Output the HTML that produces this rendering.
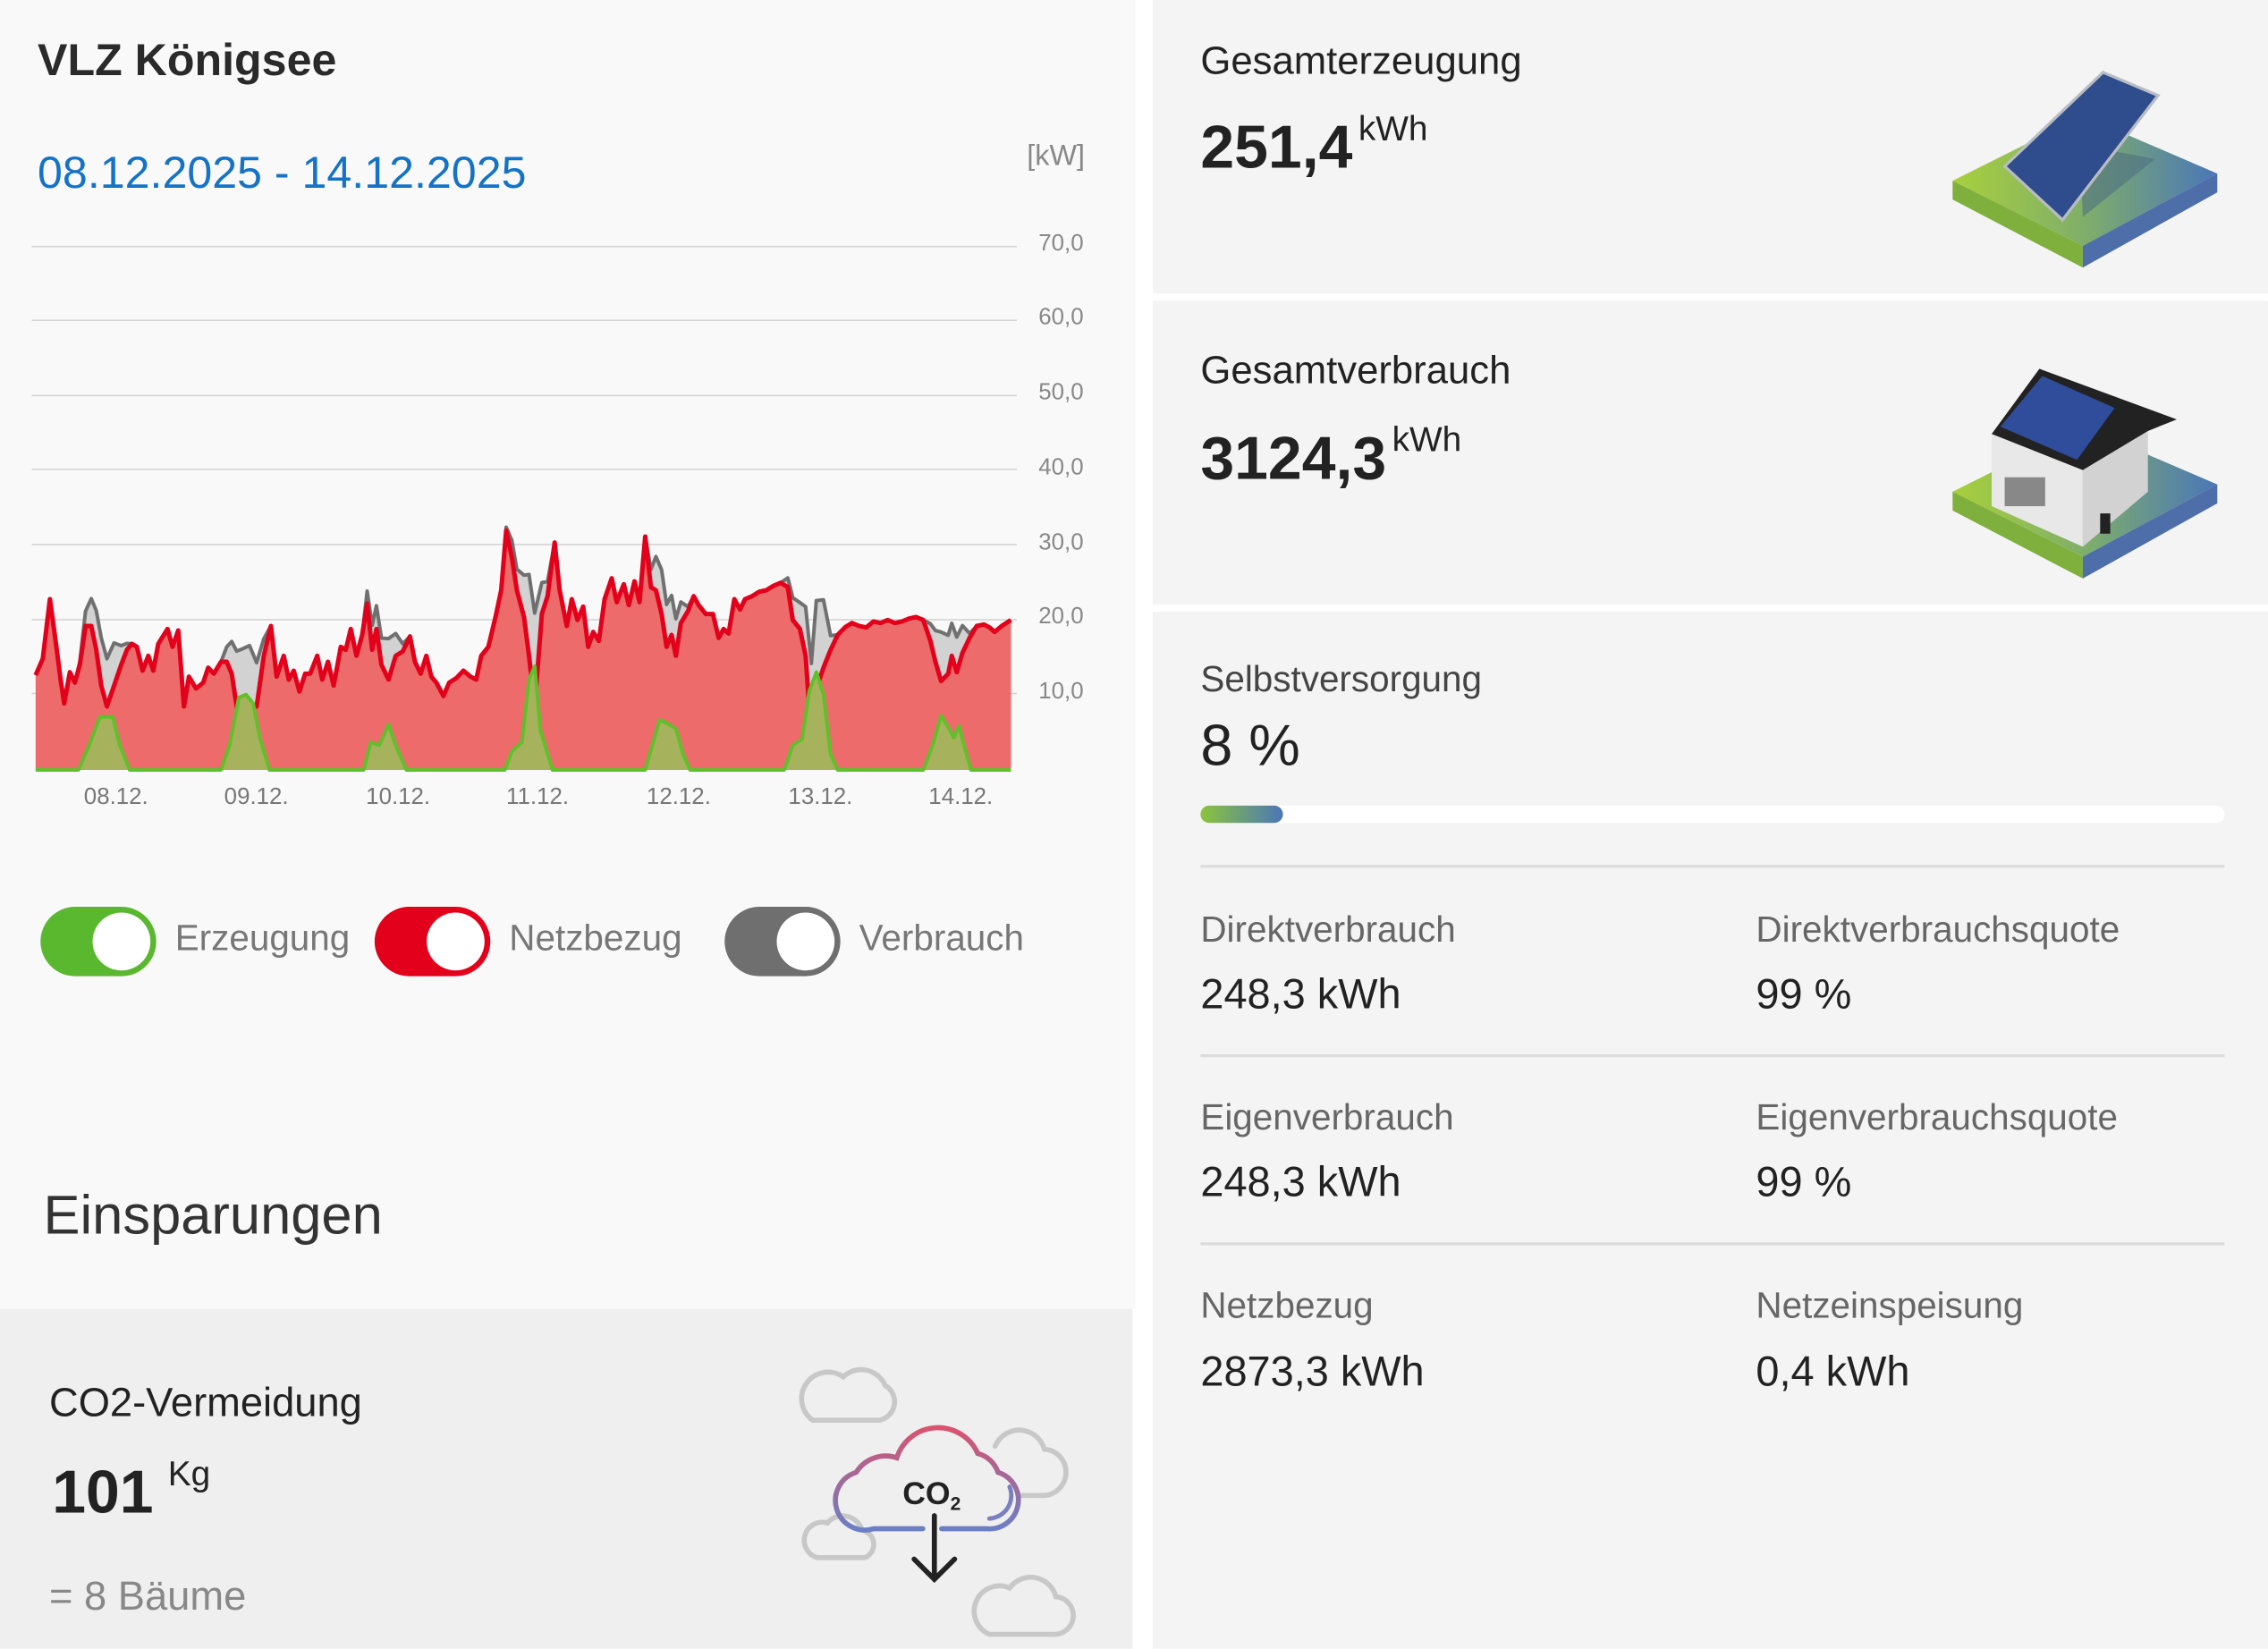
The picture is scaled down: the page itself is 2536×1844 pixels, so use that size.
<!DOCTYPE html>
<html><head><meta charset="utf-8">
<style>
html,body{margin:0;padding:0;background:#fff;}
body{width:2536px;height:1844px;position:relative;overflow:hidden;font-family:"Liberation Sans",sans-serif;}
#w{position:absolute;left:0;top:0;width:1568px;height:1140px;transform:scale(1.6173);transform-origin:0 0;}
.a{position:absolute;white-space:nowrap;}
.tg{position:absolute;width:80px;height:48px;border-radius:24px;}
.tg i{position:absolute;right:4px;top:4px;width:40px;height:40px;border-radius:50%;background:#fff;}
.lbl{font-size:25px;color:#666;}
.val{font-size:29px;color:#222;}
.yl{position:absolute;left:718px;font-size:16px;color:#888;}
.xl{position:absolute;font-size:16px;color:#777;}
</style></head><body>
<div id="w">
<div class="a" style="left:0;top:0;width:785px;height:905px;background:#f9f9f9"></div>
<div class="a" style="left:0;top:905px;width:783px;height:235px;background:#efefef"></div>
<div class="a" style="left:797px;top:0;width:771px;height:203px;background:#f4f4f4"></div>
<div class="a" style="left:797px;top:208px;width:771px;height:210px;background:#f4f4f4"></div>
<div class="a" style="left:797px;top:423px;width:771px;height:717px;background:#f4f4f4"></div>

<div class="a" style="left:26px;top:24px;font-size:31px;font-weight:bold;color:#2a2a2a">VLZ Königsee</div>
<div class="a" style="left:26px;top:102px;font-size:31px;color:#1473c6">08.12.2025 - 14.12.2025</div>
<div class="a" style="left:710px;top:97px;font-size:20px;color:#888">[kW]</div>

<div class="a" style="left:22px;top:170px;width:681px;height:1px;background:#d4d4d4"></div>
<div class="a" style="left:22px;top:221px;width:681px;height:1px;background:#d4d4d4"></div>
<div class="a" style="left:22px;top:273px;width:681px;height:1px;background:#d4d4d4"></div>
<div class="a" style="left:22px;top:324px;width:681px;height:1px;background:#d4d4d4"></div>
<div class="a" style="left:22px;top:376px;width:681px;height:1px;background:#d4d4d4"></div>
<div class="a" style="left:22px;top:428px;width:681px;height:1px;background:#d4d4d4"></div>
<div class="a" style="left:22px;top:479px;width:681px;height:1px;background:#d4d4d4"></div>
<div class="yl" style="top:160px">70,0</div>
<div class="yl" style="top:211px">60,0</div>
<div class="yl" style="top:263px">50,0</div>
<div class="yl" style="top:315px">40,0</div>
<div class="yl" style="top:367px">30,0</div>
<div class="yl" style="top:418px">20,0</div>
<div class="yl" style="top:470px">10,0</div>
<div class="xl" style="left:58px;top:543px">08.12.</div>
<div class="xl" style="left:155px;top:543px">09.12.</div>
<div class="xl" style="left:253px;top:543px">10.12.</div>
<div class="xl" style="left:350px;top:543px">11.12.</div>
<div class="xl" style="left:447px;top:543px">12.12.</div>
<div class="xl" style="left:545px;top:543px">13.12.</div>
<div class="xl" style="left:642px;top:543px">14.12.</div>

<div class="tg" style="left:28px;top:627px;background:#5ab82e"><i></i></div>
<div class="a lbl" style="left:121px;top:635px;color:#777">Erzeugung</div>
<div class="tg" style="left:259px;top:627px;background:#e2001a"><i></i></div>
<div class="a lbl" style="left:352px;top:635px;color:#777">Netzbezug</div>
<div class="tg" style="left:501px;top:627px;background:#6f6f6f"><i></i></div>
<div class="a lbl" style="left:594px;top:635px;color:#777">Verbrauch</div>

<div class="a" style="left:30px;top:820px;font-size:38px;color:#333">Einsparungen</div>
<div class="a" style="left:34px;top:954px;font-size:28px;color:#222">CO2-Vermeidung</div>
<div class="a" style="left:36px;top:1008px;font-size:42px;font-weight:bold;color:#222">101<span style="font-size:24px;font-weight:normal;vertical-align:top;position:relative;top:-2px;margin-left:10px">Kg</span></div>
<div class="a" style="left:34px;top:1088px;font-size:28px;color:#888">= 8 Bäume</div>

<svg class="a" style="left:540px;top:930px" width="220" height="210" viewBox="540 930 220 210">
<defs><linearGradient id="cg" x1="0" y1="0" x2="0" y2="1"><stop offset="0" stop-color="#d9536e"/><stop offset="1" stop-color="#6b7fc6"/></linearGradient></defs>
<g fill="none" stroke="#c8c8c8" stroke-width="3.5" stroke-linecap="round">
<path d="M562,982 H608 A13,13 0 0 0 612,958 A18,18 0 0 0 583,952 A14,14 0 0 0 562,982 Z"/>
<path d="M688,1000 A18,18 0 0 1 722,1002 A14,14 0 0 1 720,1034 H705"/>
<path d="M565,1077 H598 A10,10 0 0 0 596,1058 A14,14 0 0 0 572,1053 A12,12 0 0 0 565,1077 Z"/>
<path d="M684,1130 H728 A13,13 0 0 0 730,1104 A18,18 0 0 0 698,1098 A16,16 0 0 0 684,1130 Z"/>
</g>
<path d="M638,1057 H604 A20,20 0 0 1 592,1018 A24,24 0 0 1 620,1008 A30,30 0 0 1 676,1005 A20,20 0 0 1 690,1018 A20,20 0 0 1 682,1057 H651" fill="none" stroke="url(#cg)" stroke-width="3.5" stroke-linecap="round"/>
<path d="M698,1028 A16,16 0 0 1 684,1050" fill="none" stroke="#7a7fc0" stroke-width="3" stroke-linecap="round"/>
<text x="624" y="1040" font-size="22" font-weight="bold" fill="#222" font-family="Liberation Sans,sans-serif">CO<tspan font-size="13" dy="4">2</tspan></text>
<path d="M646,1048 V1092 M632,1078 L646,1092 L660,1078" fill="none" stroke="#222" stroke-width="3.5" stroke-linecap="round"/>
</svg>

<div class="a" style="left:830px;top:27px;font-size:27px;color:#222">Gesamterzeugung</div>
<div class="a" style="left:830px;top:78px;font-size:42px;font-weight:bold;color:#222">251,4<span style="font-size:24px;font-weight:normal;vertical-align:top;position:relative;top:-2px;margin-left:4px">kWh</span></div>
<div class="a" style="left:830px;top:241px;font-size:27px;color:#222">Gesamtverbrauch</div>
<div class="a" style="left:830px;top:293px;font-size:42px;font-weight:bold;color:#222">3124,3<span style="font-size:24px;font-weight:normal;vertical-align:top;position:relative;top:-2px;margin-left:4px">kWh</span></div>

<svg class="a" style="left:1340px;top:40px" width="200" height="380" viewBox="1340 40 200 380">
<defs><linearGradient id="pg" x1="0" y1="0" x2="1" y2="0"><stop offset="0" stop-color="#a8d03c"/><stop offset="0.5" stop-color="#7fae6a"/><stop offset="1" stop-color="#4a76b8"/></linearGradient></defs>
<polygon points="1350,125 1440,80 1533,120 1440,170" fill="url(#pg)"/>
<polygon points="1350,125 1440,170 1440,185 1350,138" fill="#7faf3c"/>
<polygon points="1440,170 1533,120 1533,133 1440,185" fill="#4d6ea8"/>
<polygon points="1438,100 1490,110 1440,150" fill="#4e6f80" opacity="0.6"/>
<polygon points="1386,115 1454,50 1492,66 1426,152" fill="#2f4d8c" stroke="#b8bcc4" stroke-width="2"/>
<polygon points="1350,340 1440,295 1533,335 1440,385" fill="url(#pg)"/>
<polygon points="1350,340 1440,385 1440,400 1350,353" fill="#7faf3c"/>
<polygon points="1440,385 1533,335 1533,348 1440,400" fill="#4d6ea8"/>
<polygon points="1377,300 1440,325 1440,378 1377,350" fill="#e8e8e8"/>
<polygon points="1440,325 1485,295 1485,340 1440,378" fill="#d2d2d2"/>
<polygon points="1377,300 1410,255 1505,290 1485,298 1440,325" fill="#222"/>
<polygon points="1383,295 1412,260 1462,282 1436,318" fill="#2f4d9a"/>
<rect x="1386" y="330" width="28" height="20" fill="#888"/>
<rect x="1452" y="355" width="7" height="14" fill="#222"/>
</svg>

<div class="a" style="left:830px;top:456px;font-size:25px;color:#444">Selbstversorgung</div>
<div class="a" style="left:830px;top:494px;font-size:40px;color:#222">8 %</div>
<div class="a" style="left:830px;top:557px;width:708px;height:12px;border-radius:6px;background:#fff"></div>
<div class="a" style="left:830px;top:557px;width:57px;height:12px;border-radius:6px;background:linear-gradient(90deg,#8cc43c,#4a76b8)"></div>
<div class="a" style="left:830px;top:598px;width:708px;height:2px;background:#dcdcdc"></div>
<div class="a" style="left:830px;top:729px;width:708px;height:2px;background:#dcdcdc"></div>
<div class="a" style="left:830px;top:859px;width:708px;height:2px;background:#dcdcdc"></div>

<div class="a lbl" style="left:830px;top:629px">Direktverbrauch</div>
<div class="a val" style="left:830px;top:672px">248,3 kWh</div>
<div class="a lbl" style="left:1214px;top:629px">Direktverbrauchsquote</div>
<div class="a val" style="left:1214px;top:672px">99 %</div>
<div class="a lbl" style="left:830px;top:759px">Eigenverbrauch</div>
<div class="a val" style="left:830px;top:802px">248,3 kWh</div>
<div class="a lbl" style="left:1214px;top:759px">Eigenverbrauchsquote</div>
<div class="a val" style="left:1214px;top:802px">99 %</div>
<div class="a lbl" style="left:830px;top:889px">Netzbezug</div>
<div class="a val" style="left:830px;top:933px">2873,3 kWh</div>
<div class="a lbl" style="left:1214px;top:889px">Netzeinspeisung</div>
<div class="a val" style="left:1214px;top:933px">0,4 kWh</div>
</div>

<svg id="ch" style="position:absolute;left:0;top:560px" width="1250" height="360" viewBox="0 0 1568 1080" preserveAspectRatio="none"></svg>
<script>
var R=[[50,585],[60,530],[70,330],[78,470],[85,600],[90,680],[98,575],[105,610],[112,550],[120,420],[128,420],[135,500],[142,620],[150,690],[160,620],[170,550],[178,500],[185,480],[192,490],[200,570],[208,520],[215,570],[222,480],[235,430],[242,490],[250,435],[258,690],[265,590],[275,630],[285,610],[292,560],[300,580],[310,540],[318,540],[325,580],[332,690],[340,720],[350,700],[360,690],[370,520],[380,420],[388,590],[398,520],[405,600],[412,570],[420,640],[428,580],[435,580],[445,520],[452,600],[460,540],[468,620],[478,490],[485,500],[492,430],[500,520],[508,450],[515,345],[522,500],[528,430],[535,550],[545,600],[555,520],[565,505],[575,455],[582,540],[590,580],[598,520],[605,590],[612,610],[622,655],[630,610],[640,595],[650,570],[660,590],[668,600],[675,520],[685,490],[695,390],[703,300],[710,100],[718,190],[725,300],[735,390],[742,520],[750,690],[760,380],[768,320],[778,140],[785,300],[795,420],[802,330],[810,400],[818,355],[825,490],[832,440],[840,470],[848,330],[858,260],[865,340],[875,280],[882,350],[890,270],[897,340],[905,120],[913,290],[920,300],[928,380],[935,490],[942,450],[948,520],[955,410],[965,370],[973,320],[980,350],[990,380],[1000,380],[1008,460],[1015,430],[1022,445],[1030,330],[1038,365],[1045,330],[1055,320],[1065,305],[1075,300],[1085,285],[1095,275],[1105,290],[1112,400],[1122,430],[1130,520],[1138,800],[1145,630],[1155,560],[1165,500],[1175,450],[1185,425],[1195,410],[1205,420],[1215,425],[1225,405],[1235,410],[1245,400],[1255,410],[1265,405],[1275,395],[1285,390],[1295,400],[1305,470],[1312,540],[1320,605],[1330,580],[1335,520],[1342,575],[1350,510],[1360,460],[1370,420],[1380,415],[1388,425],[1395,440],[1405,420],[1418,400]];
var G=[[50,903],[110,903],[125,820],[140,725],[158,725],[168,820],[182,903],[310,903],[322,820],[335,660],[345,650],[355,680],[365,800],[378,903],[510,903],[520,810],[532,820],[545,750],[555,820],[570,903],[708,903],[718,840],[732,810],[742,600],[750,555],[758,770],[775,903],[905,903],[915,820],[925,735],[935,745],[948,765],[958,850],[968,903],[1100,903],[1112,820],[1125,800],[1135,640],[1145,575],[1155,650],[1165,850],[1175,903],[1295,903],[1308,820],[1320,720],[1330,760],[1338,795],[1345,755],[1352,820],[1362,903],[1418,903]];
function gi(x){for(var i=1;i<G.length;i++){if(x<=G[i][0]){var a=G[i-1],b=G[i];return a[1]+(b[1]-a[1])*(x-a[0])/(b[0]-a[0]);}}return 903;}
var Gr=R.map(function(p){var h=903-gi(p[0]);return [p[0],Math.min(p[1],p[1]-h*0.9)];});
function pts(a){return a.map(function(p){return p[0]+','+p[1]}).join(' ');}
function area(a){return '50,903 '+pts(a)+' 1418,903';}
var s='';
var ne='vector-effect="non-scaling-stroke" stroke-linejoin="round"';
s+='<polygon points="'+area(Gr)+'" fill="#d2d2d2"/>';
s+='<polyline points="'+pts(Gr)+'" fill="none" stroke="#707070" stroke-width="4" '+ne+'/>';
s+='<polygon points="'+area(R)+'" fill="#ee6b6b"/>';
s+='<polyline points="'+pts(R)+'" fill="none" stroke="#e2001a" stroke-width="5" '+ne+'/>';
s+='<polygon points="'+pts(G)+'" fill="#a7b35c"/>';
s+='<polyline points="'+pts(G)+'" fill="none" stroke="#62bf2c" stroke-width="4" '+ne+'/>';
document.getElementById('ch').innerHTML=s;
</script>
</body></html>
